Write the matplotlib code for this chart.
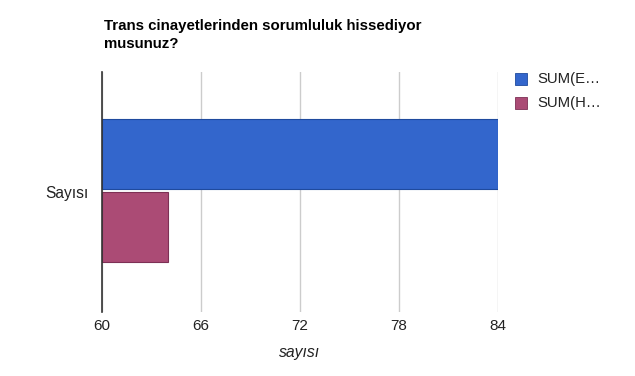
import matplotlib
matplotlib.use("Agg")
import matplotlib.pyplot as plt
from matplotlib.patches import Rectangle

plt.rcParams['font.family'] = ['Liberation Sans', 'DejaVu Sans']

category = "Sayısı"
series_names = ["SUM(E…", "SUM(H…"]
series_values = [84, 64]
colors = ["#3366cc", "#ab4b75"]
edge_colors = ["#1f4a9e", "#7d3055"]
xticks = [60, 66, 72, 78, 84]
title = "Trans cinayetlerinden sorumluluk hissediyor\nmusunuz?"
xlabel = "sayısı"

fig = plt.figure(figsize=(6.35, 3.76), dpi=100)
ax = fig.add_axes([102/635, 1-312/376, 396/635, 240/376])

offsets = [-0.158, 0.144]
h = 0.292
for v, off, c, ec in zip(series_values, offsets, colors, edge_colors):
    ax.barh(off, v - 60, left=60, height=h, color=c, edgecolor=ec, linewidth=0.8, zorder=3)

ax.set_xlim(60, 84)
ax.set_ylim(0.5, -0.5)
ax.set_xticks(xticks)
ax.set_xticklabels([str(t) for t in xticks], fontsize=11, color="#222222")
ax.tick_params(axis='x', length=0, pad=5)
ax.set_yticks([0])
ax.set_yticklabels([category], fontsize=11.2, color="#222222")
ax.tick_params(axis='y', length=0, pad=10)
ax.grid(axis='x', color="#cccccc", linewidth=1, zorder=0)
for s in ['top', 'right', 'bottom']:
    ax.spines[s].set_visible(False)
ax.spines['left'].set_color("#333333")
ax.spines['left'].set_linewidth(1.2)
ax.spines['left'].set_zorder(4)

ax.set_xlabel(xlabel, fontsize=11.3, style='italic', color="#222222", labelpad=9)

fig.text(104/635, 1-35/376, title, fontsize=10.8, fontweight='bold', color="#000000",
         ha='left', va='center', linespacing=1.4)

# legend
for i, (name, c, ec) in enumerate(zip(series_names, colors, edge_colors)):
    y = 73 + i * 24
    fig.patches.append(Rectangle((515/635, 1-(y+12)/376), 12/635, 12/376,
                                 transform=fig.transFigure, facecolor=c, edgecolor=ec,
                                 linewidth=0.6))
    fig.text(537/635, 1-(y+6)/376, name, fontsize=10.7, color="#222222", ha='left', va='center')

fig.savefig("out.png", dpi=100)
